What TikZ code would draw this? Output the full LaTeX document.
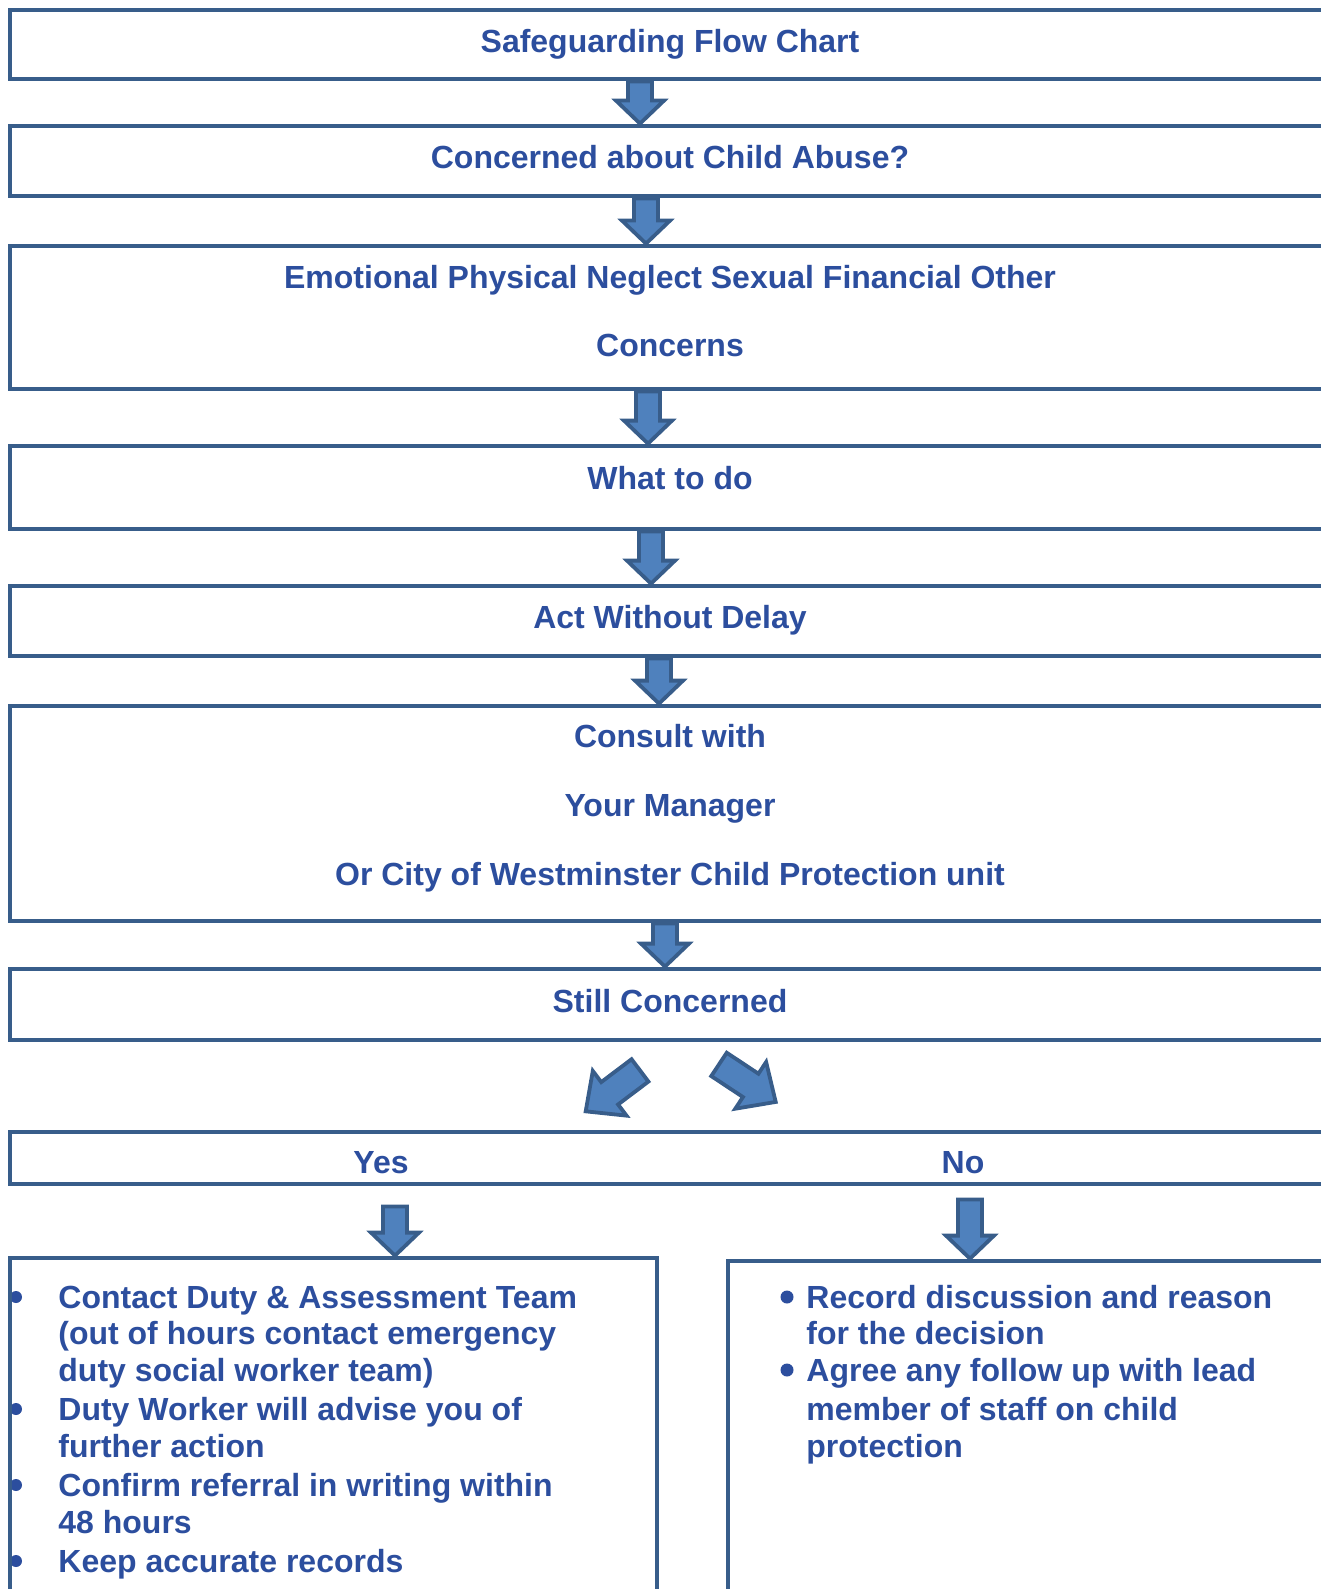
\documentclass[tikz,border=0pt]{standalone}
\usepackage{fontspec}
\setmainfont{Liberation Sans}
\usetikzlibrary{calc}
\definecolor{boxblue}{RGB}{56,93,138}
\definecolor{arrowfill}{RGB}{79,129,189}
\definecolor{txtblue}{RGB}{44,78,158}
\tikzset{
  box/.style={draw=boxblue, line width=2.4pt, rectangle, inner sep=0pt, minimum width=660pt},
  lbl/.style={text=txtblue, font=\fontsize{16}{18}\selectfont\bfseries, inner sep=0pt, text height=11.5pt, text depth=0pt},
  item/.style={lbl, anchor=west},
  blockarrow/.style={fill=arrowfill, draw=boxblue, line width=1.9pt, line join=miter},
  pics/slantarr/.style={code={
    \draw[blockarrow] (0,-14) -- (38,-14) -- (38,-28) -- (68,0) -- (38,28) -- (38,14) -- (0,14) -- cycle;
  }}
}
% down block arrow: [gap at top]{x}{upper box}{lower box}
\newcommand{\dnarrow}[4][0]{%
  \coordinate (tp) at (#2,0 |- #3.south);
  \coordinate (tq) at (#2,0 |- #4.north);
  \draw[blockarrow] ($(tp)+(-12,#1)$) -- ($(tq)+(-12,-23)$) -- ($(tq)+(-24,-23)$) -- (tq)
    -- ($(tq)+(24,-23)$) -- ($(tq)+(12,-23)$) -- ($(tp)+(12,#1)$) -- cycle;}
\begin{document}
\begin{tikzpicture}[x=0.5pt, y=-0.5pt]
\useasboundingbox (0,0) rectangle (1321,1589);
\clip (0,0) rectangle (1321,1589);
% main boxes
\node[box, minimum height=34.5pt] (title) at (670,44.5) {};
\node[box, minimum height=35pt] (abuse) at (670,161) {};
\node[box, minimum height=71.5pt] (types) at (670,317.5) {};
\node[box, minimum height=41.5pt] (todo) at (670,487.5) {};
\node[box, minimum height=35pt] (act) at (670,621) {};
\node[box, minimum height=107.5pt] (consult) at (670,813.5) {};
\node[box, minimum height=35.5pt] (still) at (670,1004.5) {};
\node[box, minimum height=26pt] (answer) at (670,1158) {};
% texts
\node[lbl] (t-title) at (670,41) {Safeguarding Flow Chart};
\node[lbl] (t-abuse) at (670,157) {Concerned about Child Abuse?};
\node[lbl] (t-types) at (670,277) {Emotional Physical Neglect Sexual Financial Other};
\node[lbl] (t-concerns) at (670,345) {Concerns};
\node[lbl] (t-todo) at (670,478) {What to do};
\node[lbl] (t-act) at (670,617) {Act Without Delay};
\node[lbl] (t-consult) at (670,736) {Consult with};
\node[lbl] (t-manager) at (670,805) {Your Manager};
\node[lbl] (t-unit) at (670,874) {Or City of Westminster Child Protection unit};
\node[lbl] (t-still) at (670,1001) {Still Concerned};
\node[lbl] (t-yes) at (381,1162) {Yes};
\node[lbl] (t-no) at (963,1162) {No};
% bullets, then the two lower boxes
\foreach \y in {1297,1409,1485,1561}
  \fill[txtblue] (16,\y) circle (6);
\foreach \y in {1297,1370}
  \fill[txtblue] (787,\y) circle (6.5);
\node[box, minimum width=323.5pt, minimum height=191pt] (yesbox) at (333.5,1449) {};
\node[box, minimum width=311pt, minimum height=189.5pt] (nobox) at (1039,1450.5) {};
\foreach \y/\t [count=\i] in {1297/Contact Duty \& Assessment Team, 1333/(out of hours contact emergency,
  1370/duty social worker team), 1409/Duty Worker will advise you of, 1446/further action,
  1485/Confirm referral in writing within, 1522/48 hours, 1561/Keep accurate records}
  \node[item] (yes\i) at (58,\y) {\t};
\foreach \y/\t [count=\i] in {1297/Record discussion and reason, 1333/for the decision,
  1370/Agree any follow up with lead, 1409/member of staff on child, 1446/protection}
  \node[item] (no\i) at (806,\y) {\t};
% arrows
\dnarrow{640}{title}{abuse}
\dnarrow{646}{abuse}{types}
\dnarrow{648}{types}{todo}
\dnarrow{651}{todo}{act}
\dnarrow{659}{act}{consult}
\dnarrow{665}{consult}{still}
\pic[rotate=217] (leftarr) at ($(still.south)+(-30,28)$) {slantarr};
\pic[rotate=-33.5] (rightarr) at ($(still.south)+(49,22)$) {slantarr};
\dnarrow[20]{395}{answer}{yesbox}
\dnarrow[13]{970}{answer}{nobox}
\end{tikzpicture}
\end{document}
